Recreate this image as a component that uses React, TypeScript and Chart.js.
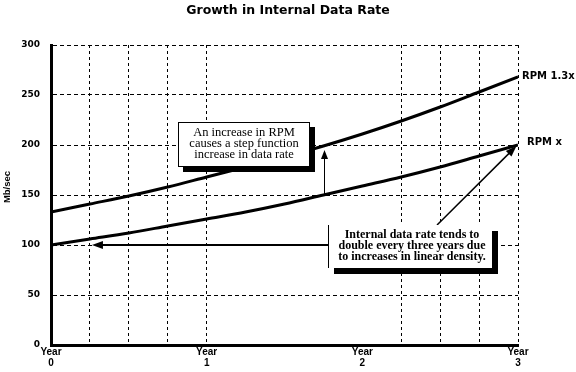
import React, { useEffect, useRef } from 'react';
import { Chart, registerables } from 'chart.js';

Chart.register(...registerables);

// ---- data ----
const years = [0, 0.25, 0.5, 0.75, 1, 1.25, 1.5, 1.75, 2, 2.25, 2.5, 2.75, 3];
const rpmX = [100, 106, 112, 119, 126, 133, 141, 150, 159, 168, 178, 189, 200];
const rpm13x = [133, 141, 149, 158, 168, 178, 188, 199, 211, 224, 238, 253, 268];
const seriesLabels = ['RPM x', 'RPM 1.3x'];
const yMin = 0;
const yMax = 300;
const yStep = 50;
const xStep = 0.25;
const yearTickWord = 'Year';
const gridYears = [0.25, 0.5, 0.75, 1, 2.25, 2.5, 2.75, 3];
const titleText = 'Growth in Internal Data Rate';
const yAxisTitle = 'Mb/sec';
const note1Lines = ['An increase in RPM', 'causes a step function', 'increase in data rate'];
const note2Lines = ['Internal data rate tends to', 'double every three years due', 'to increases in linear density.'];

// annotation anchors (data units)
const stepArrow = { t: 1.753, from: 150, to: 195 };
const doubleArrowH = { fromT: 1.78, toT: 0.263, v: 100 };
const doubleArrowD = { fromT: 2.48, fromV: 120, toT: 2.99, toV: 199 };
const note1Box = { t0: 0.816, t1: 1.664, v0: 223, v1: 178 };
const note2Box = { t0: 1.78, t1: 2.833, v0: 120, v1: 77 };

function arrowHead(ctx: CanvasRenderingContext2D, x1: number, y1: number, x2: number, y2: number, len: number, half: number) {
  const a = Math.atan2(y2 - y1, x2 - x1);
  const bx = x2 - len * Math.cos(a);
  const by = y2 - len * Math.sin(a);
  ctx.beginPath();
  ctx.moveTo(x2, y2);
  ctx.lineTo(bx + half * Math.sin(a), by - half * Math.cos(a));
  ctx.lineTo(bx - half * Math.sin(a), by + half * Math.cos(a));
  ctx.closePath();
  ctx.fill();
}

const annotationPlugin = {
  id: 'annotationPlugin',
  afterDatasetsDraw(chart: any) {
    const ctx: CanvasRenderingContext2D = chart.ctx;
    const xs = chart.scales.x;
    const ys = chart.scales.y;
    const px = (t: number) => xs.getPixelForValue(t);
    const py = (v: number) => ys.getPixelForValue(v);
    ctx.save();
    ctx.fillStyle = '#000';
    ctx.strokeStyle = '#000';

    // vertical step arrow
    {
      const x = Math.round(px(stepArrow.t)) + 0.5;
      const y1 = py(stepArrow.from);
      const y2 = py(stepArrow.to);
      ctx.lineWidth = 1;
      ctx.beginPath();
      ctx.moveTo(x, y1);
      ctx.lineTo(x, y2 + 6);
      ctx.stroke();
      arrowHead(ctx, x, y1, x, y2, 9, 3.5);
    }

    // horizontal arrow
    {
      const y = py(doubleArrowH.v);
      const x1 = px(doubleArrowH.fromT);
      const x2 = px(doubleArrowH.toT);
      ctx.lineWidth = 2;
      ctx.beginPath();
      ctx.moveTo(x1, y);
      ctx.lineTo(x2 + 8, y);
      ctx.stroke();
      arrowHead(ctx, x1, y, x2, y, 11, 4);
    }

    // diagonal arrow
    {
      const x1 = px(doubleArrowD.fromT);
      const y1 = py(doubleArrowD.fromV);
      const x2 = px(doubleArrowD.toT);
      const y2 = py(doubleArrowD.toV);
      ctx.lineWidth = 1.5;
      ctx.beginPath();
      ctx.moveTo(x1, y1);
      const a = Math.atan2(y2 - y1, x2 - x1);
      ctx.lineTo(x2 - 8 * Math.cos(a), y2 - 8 * Math.sin(a));
      ctx.stroke();
      arrowHead(ctx, x1, y1, x2, y2, 11, 4);
    }

    // note box 1 (full border + shadow)
    {
      const x0 = Math.round(px(note1Box.t0));
      const x1 = Math.round(px(note1Box.t1));
      const y0 = Math.round(py(note1Box.v0));
      const y1 = Math.round(py(note1Box.v1));
      const w = x1 - x0;
      const h = y1 - y0;
      ctx.fillStyle = '#000';
      ctx.fillRect(x0 + 5, y0 + 5, w, h);
      ctx.fillStyle = '#fff';
      ctx.fillRect(x0, y0, w, h);
      ctx.lineWidth = 1;
      ctx.strokeRect(x0 + 0.5, y0 + 0.5, w - 1, h - 1);
      ctx.fillStyle = '#000';
      ctx.font = '12.5px "Liberation Serif"';
      ctx.textAlign = 'center';
      ctx.textBaseline = 'middle';
      const cx = (x0 + x1) / 2;
      note1Lines.forEach((l, i) => ctx.fillText(l, cx, y0 + 11 + i * 11));
    }

    // note box 2 (left line + shadow)
    {
      const x0 = Math.round(px(note2Box.t0));
      const x1 = Math.round(px(note2Box.t1));
      const y0 = Math.round(py(note2Box.v0));
      const y1 = Math.round(py(note2Box.v1));
      const w = x1 - x0;
      const h = y1 - y0;
      ctx.fillStyle = '#000';
      ctx.fillRect(x0 + 6, y0 + 6, w, h);
      ctx.fillStyle = '#fff';
      ctx.fillRect(x0, y0, w, h);
      ctx.lineWidth = 1;
      ctx.beginPath();
      ctx.moveTo(x0 + 0.5, y0);
      ctx.lineTo(x0 + 0.5, y1);
      ctx.stroke();
      ctx.fillStyle = '#000';
      ctx.font = 'bold 12px "Liberation Serif"';
      ctx.textAlign = 'center';
      ctx.textBaseline = 'middle';
      const cx = (x0 + x1) / 2 + 2;
      note2Lines.forEach((l, i) => ctx.fillText(l, cx, y0 + 10 + i * 11));
    }

    // series labels at right end
    ctx.font = 'bold 10px "DejaVu Sans"';
    ctx.textAlign = 'left';
    ctx.textBaseline = 'middle';
    ctx.fillText(seriesLabels[1], px(3) + 4, py(rpm13x[rpm13x.length - 1]) - 1);
    ctx.fillText(seriesLabels[0], px(3) + 9, py(rpmX[rpmX.length - 1]) - 3);

    // title
    ctx.font = 'bold 12.5px "DejaVu Sans"';
    ctx.textAlign = 'center';
    ctx.textBaseline = 'middle';
    ctx.fillText(titleText, 288, 11);

    // y axis title
    ctx.save();
    ctx.translate(7, 187);
    ctx.rotate(-Math.PI / 2);
    ctx.font = 'bold 9.5px "Liberation Sans"';
    ctx.textAlign = 'center';
    ctx.textBaseline = 'middle';
    ctx.fillText(yAxisTitle, 0, 0);
    ctx.restore();

    ctx.restore();
  },
};

function App() {
  const ref = useRef<HTMLCanvasElement | null>(null);
  useEffect(() => {
    if (!ref.current) return;
    const chart = new Chart(ref.current, {
      type: 'line',
      data: {
        datasets: [
          {
            label: seriesLabels[1],
            data: years.map((t, i) => ({ x: t, y: rpm13x[i] })),
            borderColor: '#000',
            borderWidth: 3,
            pointRadius: 0,
            cubicInterpolationMode: 'monotone',
            fill: false,
          },
          {
            label: seriesLabels[0],
            data: years.map((t, i) => ({ x: t, y: rpmX[i] })),
            borderColor: '#000',
            borderWidth: 3,
            pointRadius: 0,
            cubicInterpolationMode: 'monotone',
            fill: false,
          },
        ],
      },
      options: {
        responsive: false,
        animation: false,
        layout: { padding: { top: 45, right: 58, left: 0, bottom: 0 } },
        plugins: {
          legend: { display: false },
          title: { display: false },
          tooltip: { enabled: false },
        },
        scales: {
          x: {
            type: 'linear',
            min: 0,
            max: 3,
            afterFit: (s: any) => {
              s.height = 27;
            },
            ticks: {
              stepSize: xStep,
              autoSkip: false,
              maxRotation: 0,
              padding: 2,
              color: '#000',
              font: { family: '"Liberation Sans"', weight: 'bold', size: 10, lineHeight: 1.1 },
              callback: (v: any) => {
                const n = Number(v);
                return Math.abs(n - Math.round(n)) < 1e-6 ? [yearTickWord, String(Math.round(n))] : '';
              },
            },
            grid: {
              drawTicks: false,
              lineWidth: 1,
              color: (c: any) => {
                const v = c.tick ? c.tick.value : -1;
                return gridYears.some((g) => Math.abs(g - v) < 1e-6) ? '#000' : 'rgba(0,0,0,0)';
              },
            },
            border: { display: true, color: '#000', width: 3, dash: [3, 3] },
          },
          y: {
            min: yMin,
            max: yMax,
            afterFit: (s: any) => {
              s.width = 51;
            },
            ticks: {
              stepSize: yStep,
              padding: 11,
              color: '#000',
              font: { family: '"DejaVu Sans"', weight: 'bold', size: 9 },
            },
            grid: {
              drawTicks: false,
              lineWidth: 1,
              color: (c: any) => (c.tick && c.tick.value === 0 ? 'rgba(0,0,0,0)' : '#000'),
            },
            border: { display: true, color: '#000', width: 3, dash: [4, 3] },
          },
        },
      },
      plugins: [annotationPlugin],
    } as any);
    return () => chart.destroy();
  }, []);
  return (
    <div style={{ position: 'absolute', left: 0, top: 0, width: 576, height: 372, background: '#fff' }}>
      <canvas ref={ref} width={576} height={372} style={{ display: 'block' }} />
    </div>
  );
}

export default App;
